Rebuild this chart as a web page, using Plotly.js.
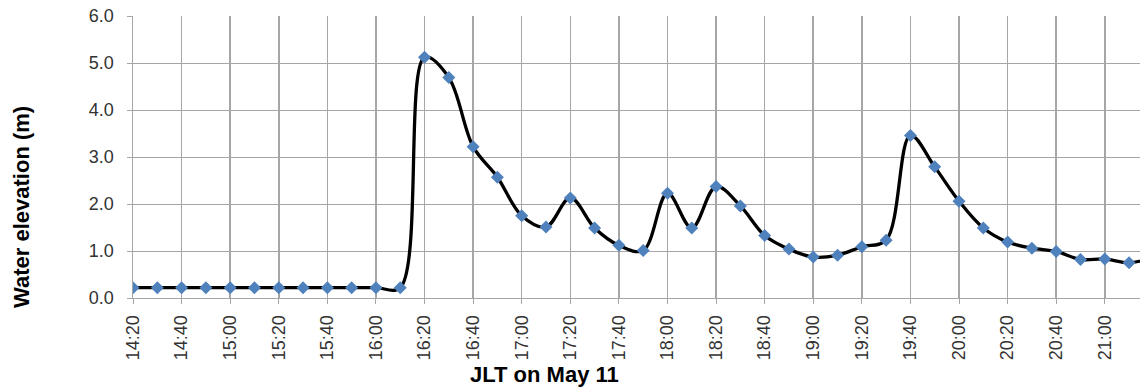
<!DOCTYPE html>
<html>
<head>
<meta charset="utf-8">
<script src="https://cdn.plot.ly/plotly-3.0.1.min.js"></script>
<style>
  html, body { margin: 0; padding: 0; background: #ffffff; }
  #chart { width: 1140px; height: 388px; }
</style>
</head>
<body>
<div id="chart"></div>
<script>
// Time stamps (JLT, May 11), every 10 minutes
const times = [
  "14:20","14:30","14:40","14:50","15:00","15:10","15:20","15:30","15:40","15:50",
  "16:00","16:10","16:20","16:30","16:40","16:50","17:00","17:10","17:20","17:30",
  "17:40","17:50","18:00","18:10","18:20","18:30","18:40","18:50","19:00","19:10",
  "19:20","19:30","19:40","19:50","20:00","20:10","20:20","20:30","20:40","20:50",
  "21:00","21:10","21:20"
];

// Water elevation (m)
const elevation = [
  0.22, 0.22, 0.22, 0.22, 0.22, 0.22, 0.22, 0.22, 0.22, 0.22,
  0.22, 0.22, 5.12, 4.69, 3.22, 2.57, 1.75, 1.51, 2.13, 1.49,
  1.12, 1.01, 2.23, 1.49, 2.37, 1.96, 1.33, 1.04, 0.87, 0.91,
  1.09, 1.23, 3.46, 2.79, 2.06, 1.49, 1.19, 1.06, 0.99, 0.82,
  0.83, 0.75, 0.86
];

// Labelled ticks every 20 minutes
const tickLabels = times.filter((t, i) => i % 2 === 0);

const yTitle = "Water elevation (m)";
const xTitle = "JLT on May 11";

const FONT = "Liberation Sans, Arial, sans-serif";
const GRID = "#a6a6a6";

const trace = {
  x: times,
  y: elevation,
  type: "scatter",
  mode: "lines+markers",
  line: { color: "#000000", width: 3.3, shape: "spline", smoothing: 1 },
  marker: { symbol: "diamond", size: 10, color: "#4f81bd", line: { width: 0 } },
  hoverinfo: "x+y"
};

const layout = {
  width: 1140,
  height: 388,
  margin: { l: 133, r: 0, t: 16, b: 90 },
  paper_bgcolor: "#ffffff",
  plot_bgcolor: "#ffffff",
  showlegend: false,
  font: { family: FONT, color: "#333333" },
  xaxis: {
    type: "category",
    range: [0, 41.45],
    tickmode: "array",
    tickvals: tickLabels,
    ticktext: tickLabels,
    tickangle: -90,
    tickfont: { family: FONT, size: 18, color: "#333333" },
    ticks: "outside",
    ticklen: 5,
    tickcolor: GRID,
    tickwidth: 1,
    ticklabelstandoff: 4,
    showgrid: true,
    gridcolor: GRID,
    gridwidth: 1.5,
    showline: true,
    linecolor: GRID,
    linewidth: 1,
    zeroline: false,
    fixedrange: true
  },
  yaxis: {
    range: [0, 6],
    tickmode: "linear",
    tick0: 0,
    dtick: 1,
    tickformat: ".1f",
    tickfont: { family: FONT, size: 18, color: "#333333" },
    ticks: "outside",
    ticklen: 5,
    tickcolor: GRID,
    tickwidth: 1,
    ticklabelstandoff: 9,
    showgrid: true,
    gridcolor: GRID,
    gridwidth: 1,
    showline: true,
    linecolor: GRID,
    linewidth: 1.5,
    zeroline: false,
    fixedrange: true
  },
  annotations: [
    {
      text: "<b>" + yTitle + "</b>",
      xref: "paper", yref: "paper",
      x: -0.1103, y: 0.3227,
      xanchor: "center", yanchor: "middle",
      textangle: -90,
      showarrow: false,
      font: { family: FONT, size: 22, color: "#000000" }
    },
    {
      text: "<b>" + xTitle + "</b>",
      xref: "paper", yref: "paper",
      x: 0.4085, y: -0.273,
      xanchor: "center", yanchor: "middle",
      showarrow: false,
      font: { family: FONT, size: 22, color: "#000000" }
    }
  ]
};

Plotly.newPlot("chart", [trace], layout, { staticPlot: true, displayModeBar: false });
</script>
</body>
</html>
